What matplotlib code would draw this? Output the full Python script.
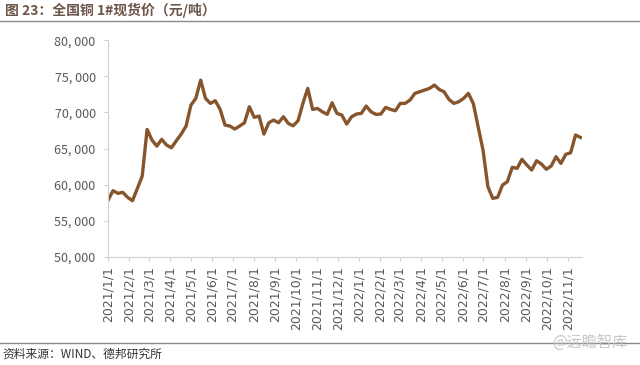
import pandas as pd
import matplotlib.pyplot as plt
from matplotlib.lines import Line2D

plt.rcParams['font.family'] = ['Noto Sans CJK SC', 'DejaVu Sans']

# weekly spot price of copper 1#, yuan/ton
price = [57880, 59170, 58800, 58940, 58250, 57780, 59490, 61200, 67650, 66170,
         65340, 66270, 65480, 65110, 66080, 67000, 68110, 71010, 71940, 74470,
         71940, 71250, 71620, 70420, 68250, 68110,
         67700, 68110, 68570, 70790, 69320, 69490, 67000, 68570, 68940, 68570,
         69400, 68480, 68150, 68840, 71250, 73320, 70420, 70550, 70090, 69730,
         71330, 69870, 69630,
         68390, 69400, 69770, 69870, 70880, 70090, 69730, 69770, 70700, 70420,
         70230, 71250, 71250, 71710, 72630, 72860, 73090, 73320, 73780, 73180,
         72860, 71800, 71250, 71470, 71940, 72630,
         71250, 68010, 64790, 59720, 58110, 58250, 59950, 60410, 62400, 62260,
         63510, 62720, 62030, 63310, 62860, 62130, 62580, 63870, 62950, 64200,
         64420, 66870, 66550]
dates = pd.date_range('2021-01-01', '2022-11-19', periods=len(price))

y_ticks = [50000, 55000, 60000, 65000, 70000, 75000, 80000]
month_ticks = pd.date_range('2021-01-01', '2022-11-01', freq='MS')

fig = plt.figure(figsize=(6.4, 3.65), dpi=100)
ax = fig.add_axes([0.169, 0.296, 0.740, 0.594])

ax.plot(dates, price, color='#86552c', linewidth=2.4, solid_joinstyle='round')

ax.set_ylim(50000, 80000)
ax.set_yticks(y_ticks)
ax.set_yticklabels([f'{v:,}'.replace(',', ', ') for v in y_ticks])
ax.set_xlim(dates[0], dates[-1] + pd.Timedelta(days=2))
ax.set_xticks(month_ticks)
ax.set_xticklabels([f'{d.year}/{d.month}/1' for d in month_ticks], rotation=90,
                   family='DejaVu Sans', fontsize=8.8)

ax.tick_params(axis='both', colors='#d0d0d0', labelcolor='#595959', labelsize=9, length=3)
ax.tick_params(axis='y', pad=6)
for side in ['top', 'right']:
    ax.spines[side].set_visible(False)
for side in ['left', 'bottom']:
    ax.spines[side].set_color('#d0d0d0')

# header / footer
fig.text(0.008, 0.972, '图 23：全国铜 1#现货价（元/吨）', fontsize=10, fontweight='bold',
         color='#6e5549', va='center', ha='left')
fig.add_artist(Line2D([0, 1], [0.943, 0.943], color='#8a8a8a', linewidth=1))
fig.add_artist(Line2D([0, 1], [0.060, 0.060], color='#8a8a8a', linewidth=1))
fig.text(0.004, 0.030, '资料来源：WIND、德邦研究所', fontsize=8.5, color='#333333',
         va='center', ha='left')
fig.text(0.98, 0.062, '@远瞻智库', fontsize=11, color='#c8c8c8', va='center', ha='right')

plt.savefig('out.png', dpi=100)
plt.close()
